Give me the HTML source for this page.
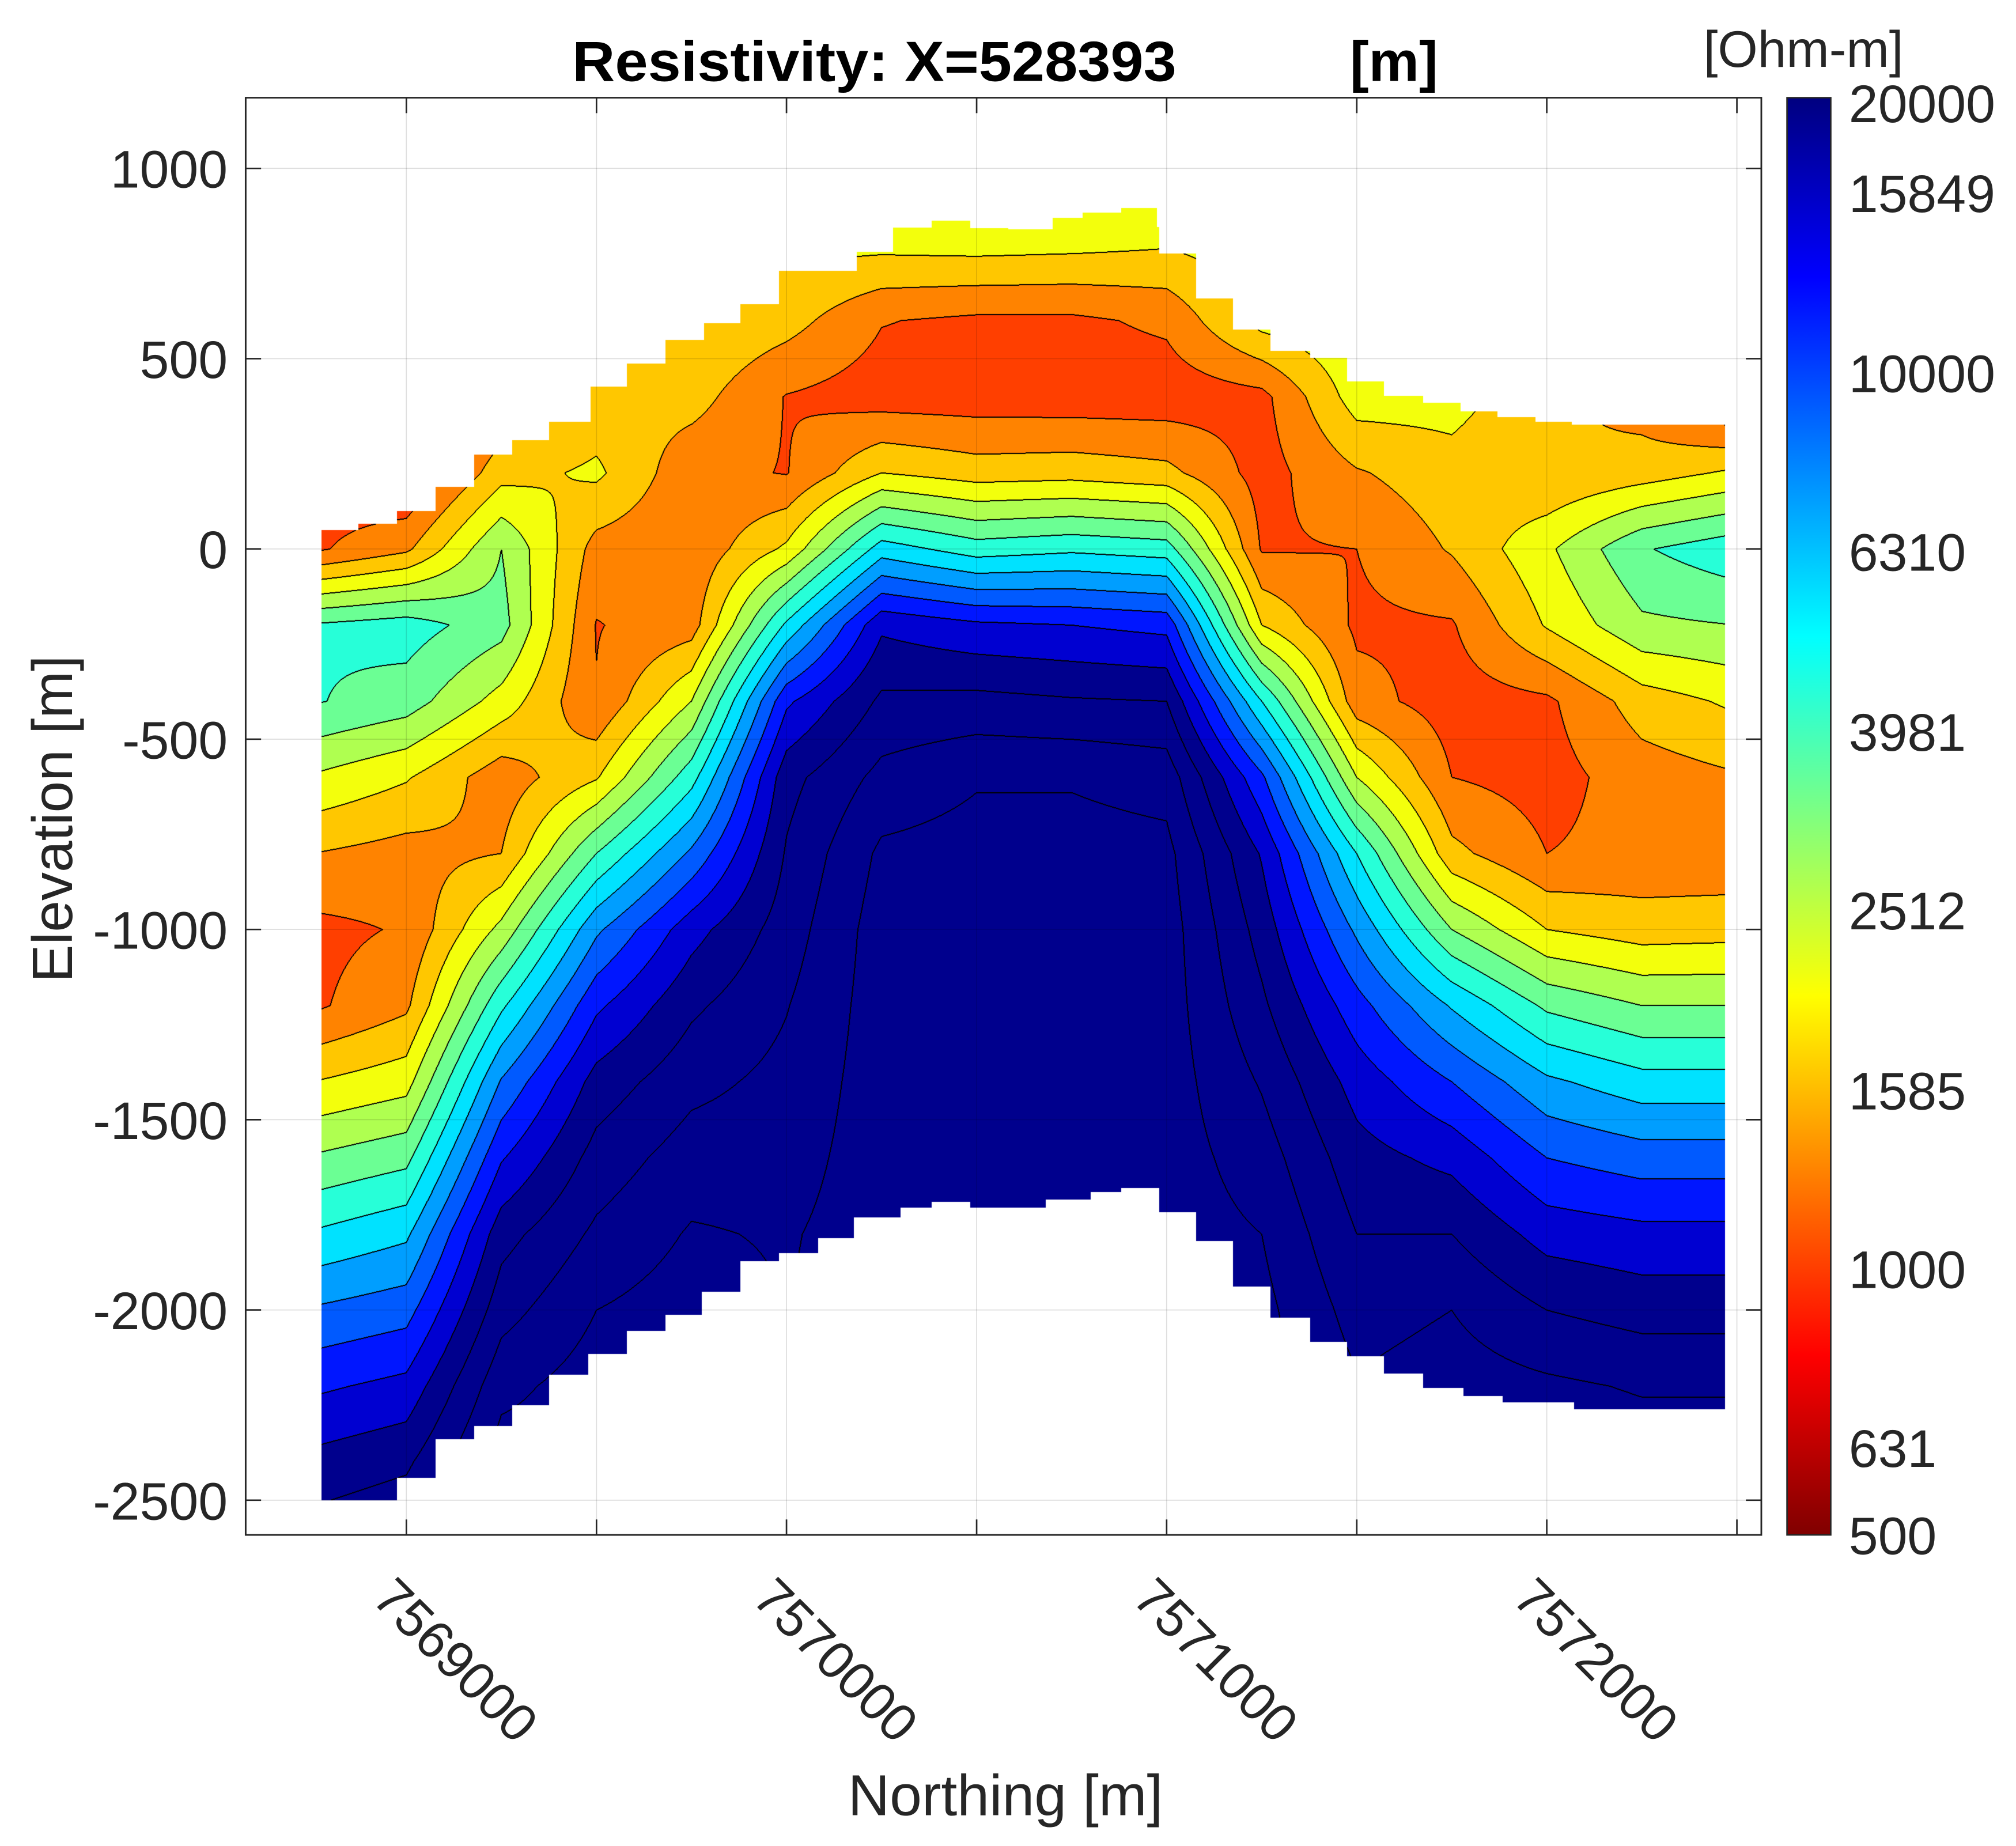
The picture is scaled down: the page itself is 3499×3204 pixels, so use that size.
<!DOCTYPE html>
<html><head><meta charset="utf-8"><style>
html,body{margin:0;padding:0;background:#fff;}
body{width:3499px;height:3204px;position:relative;overflow:hidden;}
#field{position:absolute;}
#ov{position:absolute;left:0;top:0;}
text{font-family:"Liberation Sans",Arial,sans-serif;fill:#262626;}
</style></head><body>
<canvas id="field"></canvas>
<svg id="ov" width="3499" height="3204" viewBox="0 0 1568 1436">
<defs><linearGradient id="jet" x1="0" y1="0" x2="0" y2="1">
<stop offset="0" stop-color="#000080"/><stop offset="0.125" stop-color="#0000ff"/><stop offset="0.375" stop-color="#00ffff"/><stop offset="0.625" stop-color="#ffff00"/><stop offset="0.875" stop-color="#ff0000"/><stop offset="1" stop-color="#800000"/></linearGradient></defs>
<g stroke="#000" stroke-opacity="0.13" stroke-width="0.8">
<line x1="316" y1="76" x2="316" y2="1194"/><line x1="463.9" y1="76" x2="463.9" y2="1194"/><line x1="611.7" y1="76" x2="611.7" y2="1194"/><line x1="759.6" y1="76" x2="759.6" y2="1194"/><line x1="907.4" y1="76" x2="907.4" y2="1194"/><line x1="1055.3" y1="76" x2="1055.3" y2="1194"/><line x1="1203.1" y1="76" x2="1203.1" y2="1194"/><line x1="1351" y1="76" x2="1351" y2="1194"/>
<line x1="191" y1="131" x2="1370" y2="131"/><line x1="191" y1="279" x2="1370" y2="279"/><line x1="191" y1="427" x2="1370" y2="427"/><line x1="191" y1="575" x2="1370" y2="575"/><line x1="191" y1="723" x2="1370" y2="723"/><line x1="191" y1="871" x2="1370" y2="871"/><line x1="191" y1="1019" x2="1370" y2="1019"/><line x1="191" y1="1167" x2="1370" y2="1167"/>
</g>
<g stroke="#262626" stroke-width="1.2">
<path d="M316 1194v-12M463.9 1194v-12M611.7 1194v-12M759.6 1194v-12M907.4 1194v-12M1055.3 1194v-12M1203.1 1194v-12M1351 1194v-12M316 76v12M463.9 76v12M611.7 76v12M759.6 76v12M907.4 76v12M1055.3 76v12M1203.1 76v12M1351 76v12"/>
<path d="M191 131h12M191 279h12M191 427h12M191 575h12M191 723h12M191 871h12M191 1019h12M191 1167h12M1370 131h-12M1370 279h-12M1370 427h-12M1370 575h-12M1370 723h-12M1370 871h-12M1370 1019h-12M1370 1167h-12"/>
</g>
<rect x="191" y="76" width="1179" height="1118" fill="none" stroke="#262626" stroke-width="1.3"/>
<text x="445" y="63" font-size="44" font-weight="bold" style="fill:#000" textLength="470" lengthAdjust="spacingAndGlyphs">Resistivity: X=528393</text>
<text x="1050" y="63" font-size="44" font-weight="bold" style="fill:#000">[m]</text>
<g font-size="41" text-anchor="end">
<text x="177" y="146">1000</text><text x="177" y="294">500</text><text x="177" y="442">0</text><text x="177" y="590">-500</text><text x="177" y="738">-1000</text><text x="177" y="886">-1500</text><text x="177" y="1034">-2000</text><text x="177" y="1182">-2500</text>
</g>
<text font-size="44" text-anchor="middle" transform="translate(56,637) rotate(-90)">Elevation [m]</text>
<g font-size="41">
<text transform="translate(288,1245) rotate(45)">7569000</text>
<text transform="translate(583.7,1245) rotate(45)">7570000</text>
<text transform="translate(879.4,1245) rotate(45)">7571000</text>
<text transform="translate(1175.1,1245) rotate(45)">7572000</text>
</g>
<text x="782" y="1412" font-size="45" text-anchor="middle">Northing [m]</text>
<rect x="1390" y="76" width="34" height="1118" fill="url(#jet)" stroke="#262626" stroke-width="1.2"/>
<text x="1325" y="52" font-size="40">[Ohm-m]</text>
<g font-size="41">
<text x="1438" y="95">20000</text><text x="1438" y="165">15849</text><text x="1438" y="305">10000</text><text x="1438" y="444">6310</text><text x="1438" y="584">3981</text><text x="1438" y="723">2512</text><text x="1438" y="863">1585</text><text x="1438" y="1002">1000</text><text x="1438" y="1141">631</text><text x="1438" y="1209">500</text>
</g>
</svg>
<script>
// Grid coordinates (Northing m, Elevation m)
const northGrid = [7568750,7569000,7569250,7569500,7569750,7570000,7570250,7570500,7570750,7571000,7571250,7571500,7571750,7572000,7572250,7572500];
const elevGrid = [1000,800,600,400,200,0,-200,-400,-600,-800,-1000,-1200,-1400,-1600,-1800,-2000,-2200,-2400,-2600];
// Resistivity in contour-level units: log10(rho) = 2.699 + 0.1068*level  (one column per northing, top to bottom)
const col7568750 = [2.5,2.5,2.5,2.5,2.5,2.8,8.1,8.1,5.9,4.0,2.7,2.8,5.0,7.1,9.1,11.1,12.8,14.3,15.5];
const col7569000 = [1.8,1.8,1.8,1.8,1.8,3.8,8.5,7.5,5.1,3.6,3.1,3.8,5.6,7.7,9.8,11.6,13.3,14.8,16];
const col7569250 = [2,2,2,3.0,4.6,7.0,7.4,5.6,3.4,4.0,6.3,8.8,11.1,12.9,14.6,15.6,16.7,17.5,17.5];
const col7569500 = [4,4,4,4.3,5.2,3.6,2.95,3.05,4.9,8.0,10.8,12.8,14.4,15.4,16.2,17,17.5,17.5,17.5];
const col7569750 = [5,5,5.0,4.4,3.3,3.2,3.5,6.0,8.6,11.2,13.6,14.8,15.7,16.5,17.1,17.5,17.5,17.5,17.5];
const col7570000 = [5,5.3,4.4,2.95,2.95,5.2,9.2,12.8,14.65,15.1,15.5,15.95,16.3,16.6,16.9,17,17.2,17.4,17.5];
const col7570250 = [5.6,5.3,3.05,2.5,5.0,9.5,13.8,15.2,16.3,17.2,17.5,17.5,17.5,17.5,17.5,17.5,17.5,17.5,17.5];
const col7570500 = [5.6,5.4,2.8,2.45,4.5,8.5,13.2,15.3,16.9,17.4,17.5,17.5,17.5,17.5,17.5,17.5,17.5,17.5,17.5];
const col7570750 = [5.6,5.3,2.8,2.4,4.6,8.8,13.0,15.1,16.9,17.4,17.5,17.5,17.5,17.5,17.5,17.5,17.5,17.5,17.5];
const col7571000 = [5.6,5.1,3.2,2.4,4.3,8.5,12.7,15.0,16.6,17.3,17.5,17.5,17.5,17.5,17.5,17.5,17.5,17.5,17.5];
const col7571250 = [5.8,5.6,5.4,2.7,2.6,2.9,5.0,9.0,12.2,13.9,14.6,15.2,15.9,16.5,17,17.3,17.5,17.5,17.5];
const col7571500 = [6,6,6,5.5,3.9,3.0,2.8,3.4,6.0,9.0,10.8,12.4,13.6,14.4,15.0,15.6,16.1,16.5,16.8];
const col7571750 = [6,6,6,5.4,4.6,4.1,2.9,2.5,3.0,4.3,7.0,9.9,12.0,13.7,15.0,16,16.5,16.8,17];
const col7572000 = [5,5,5,4.3,4.0,5.8,5.1,2.8,2.6,3.0,5.0,7.8,10.2,12.0,13.6,15.0,16.2,16.8,17];
const col7572250 = [3.5,3.5,3.5,3.5,4.5,7.9,6.8,4.5,3.5,3.3,4.5,7.0,9.4,11.5,13.3,14.6,15.9,16.6,17];
const col7572500 = [1.5,1.5,1.5,1.5,5.2,8.7,7.0,5.2,3.9,3.3,4.6,7.0,9.4,11.5,13.3,14.6,15.9,16.6,17];
const levelCols = [col7568750,col7569000,col7569250,col7569500,col7569750,col7570000,col7570250,col7570500,col7570750,col7571000,col7571250,col7571500,col7571750,col7572000,col7572250,col7572500];
// Model top surface (step) and bottom of model (step)
const topNorth = [7568777,7568874,7568975,7569077,7569179,7569279,7569376,7569485,7569580,7569682,7569784,7569879,7569981,7570185,7570280,7570382,7570484,7570584,7570700,7570779,7570880,7570974,7570980,7571078,7571175,7571273,7571377,7571474,7571571,7571675,7571773,7571870,7571970,7572065];
const topElev = [50,67,100,163,248,286,335,427,487,550,593,643,731,781,844,862,843,840,870,884,896,846,777,659,577,521,502,440,402,384,362,346,335,327];
const botNorth = [7568777,7568976,7569077,7569179,7569279,7569376,7569478,7569580,7569682,7569777,7569879,7569981,7570083,7570178,7570300,7570382,7570484,7570584,7570682,7570800,7570880,7570980,7571078,7571175,7571273,7571377,7571474,7571571,7571675,7571780,7571883,7572072];
const botElev = [-2500,-2440,-2340,-2305,-2250,-2169,-2115,-2054,-2013,-1952,-1871,-1850,-1811,-1757,-1730,-1716,-1730,-1730,-1710,-1690,-1679,-1743,-1818,-1938,-2020,-2084,-2122,-2166,-2204,-2225,-2242,-2260];
const northEnd = 7572468;

const S = 3499/1568;
function xScale(n){return 316 + (n-7569000)*0.29570;}
function yScale(e){return 427 - e*0.296;}
function xInv(px){return 7569000 + (px-316)/0.29570;}
function yInv(py){return (427-py)/0.296;}
function stepAt(ns, es, n){let k=0;for(let i=0;i<ns.length;i++){if(ns[i]<=n)k=i;else break;}return es[k];}
function levelAt(n,e){
  let fi=(n-northGrid[0])/(northGrid[1]-northGrid[0]);
  fi=Math.max(0,Math.min(northGrid.length-1.0001,fi));
  let fj=(elevGrid[0]-e)/(elevGrid[0]-elevGrid[1]);
  fj=Math.max(0,Math.min(elevGrid.length-1.0001,fj));
  const i=Math.floor(fi), j=Math.floor(fj), u=fi-i, v=fj-j;
  const a=levelCols[i], b=levelCols[i+1];
  return (a[j]*(1-u)+b[j]*u)*(1-v)+(a[j+1]*(1-u)+b[j+1]*u)*v;
}
function jet(t){const c=x=>Math.max(0,Math.min(1,x));return [c(1.5-Math.abs(4*t-3)),c(1.5-Math.abs(4*t-2)),c(1.5-Math.abs(4*t-1))];}
const bandColors=[];
for(let b=0;b<15;b++){const t=Math.max(0,1-(b+0.8)/15);bandColors.push(jet(t).map(v=>Math.round(v*255)));}

const cv=document.getElementById('field');
const L=Math.round(191*S), T=Math.round(76*S), W=Math.round(1179*S), H=Math.round(1118*S);
cv.width=W; cv.height=H; cv.style.left=L+'px'; cv.style.top=T+'px'; cv.style.width=W+'px'; cv.style.height=H+'px';
const ctx=cv.getContext('2d');
const img=ctx.createImageData(W,H);
const band=new Int16Array(W*H).fill(-99);
for(let i=0;i<W;i++){
  const n=xInv((L+i+0.5)/S);
  if(n<topNorth[0]||n>northEnd) continue;
  const te=stepAt(topNorth,topElev,n), be=stepAt(botNorth,botElev,n);
  for(let j=0;j<H;j++){
    const e=yInv((T+j+0.5)/S);
    if(e>te||e<be) continue;
    band[j*W+i]=Math.floor(levelAt(n,e));
  }
}
const d=img.data;
for(let j=0;j<H;j++){for(let i=0;i<W;i++){
  const k=j*W+i, b=band[k]; if(b===-99) continue;
  const c=bandColors[Math.max(0,Math.min(14,b))];
  d[k*4]=c[0];d[k*4+1]=c[1];d[k*4+2]=c[2];d[k*4+3]=255;
}}
function blk(k){d[k*4]=0;d[k*4+1]=0;d[k*4+2]=0;d[k*4+3]=255;}
for(let j=0;j<H-1;j++){for(let i=0;i<W-1;i++){
  const k=j*W+i,b=band[k]; if(b===-99) continue;
  const r=band[k+1], dn=band[k+W];
  if(r!==-99&&r!==b){blk(k);blk(k+1);}
  if(dn!==-99&&dn!==b){blk(k);blk(k+W);}
}}
ctx.putImageData(img,0,0);
</script>
</body></html>
